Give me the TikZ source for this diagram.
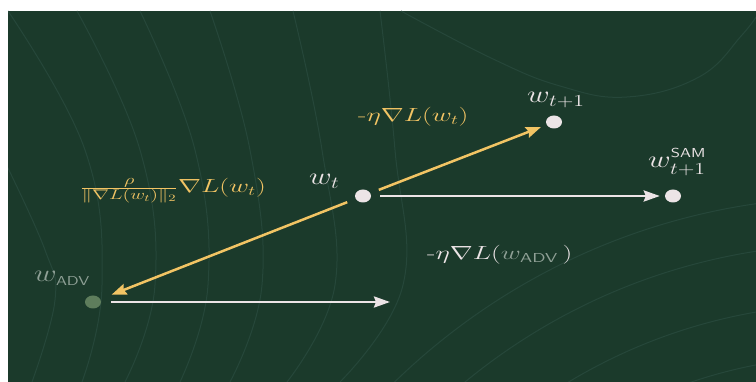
\RequirePackage{fix-cm}
\documentclass[tikz,border=0pt]{standalone}
\usepackage{amsmath}
\usetikzlibrary{arrows.meta,shapes.geometric}
\definecolor{bg}{HTML}{1B3A2B}
\definecolor{contourcol}{HTML}{26473A}
\definecolor{gold}{HTML}{F2C464}
\definecolor{chalk}{HTML}{ECE4E6}
\definecolor{advdot}{HTML}{5E7D5C}
\definecolor{advtext}{HTML}{8FA096}
\newcommand{\wx}[1]{\scalebox{1.3}[1]{#1}}
\newcommand{\yx}[1]{\scalebox{1.45}[1]{#1}}
\newcommand{\sflab}[1]{\mbox{\fontsize{13}{14}\selectfont\sffamily #1}}
\newcommand{\fracpart}[1]{\mbox{\fontsize{14}{16}\selectfont$#1$}}
\begin{document}
\begin{tikzpicture}[x=1pt,y=-1pt,
  contour/.style={draw=contourcol,line width=1pt},
  dotw/.style={ellipse,fill=chalk,inner sep=0pt,minimum width=16pt,minimum height=13pt},
  dotadv/.style={dotw,fill=advdot},
  lab/.style={inner sep=0pt,anchor=base west,text=chalk,font=\fontsize{24}{28}\selectfont},
  eq/.style={inner sep=0pt,anchor=base west,font=\fontsize{19}{22}\selectfont},
  goldarrow/.style={draw=gold,line width=2.5pt,-{Stealth[length=15pt,width=11pt,inset=2pt]}},
  chalkarrow/.style={draw=chalk,line width=2.5pt,-{Stealth[length=16pt,width=11pt,inset=2pt]}}]
\useasboundingbox (0,0) rectangle (756,382);
\fill[white] (0,0) rectangle (756,382);
\fill[bg] (8,11) rectangle (756,382);
\begin{scope}
  \clip (8,11) rectangle (756,382);
  \draw[contour] plot[smooth,tension=0.7] coordinates {(4,160) (45,250) (55,300) (32,382)};
  \draw[contour] plot[smooth,tension=0.7] coordinates {(8,11) (85,150) (102,285) (82,382)};
  \draw[contour] plot[smooth,tension=0.7] coordinates {(77,11) (140,150) (155,285) (125,382)};
  \draw[contour] plot[smooth,tension=0.7] coordinates {(140,11) (195,150) (208,285) (180,382)};
  \draw[contour] plot[smooth,tension=0.7] coordinates {(210,11) (250,150) (262,285) (230,382)};
  \draw[contour] plot[smooth,tension=0.7] coordinates {(293,11) (322,150) (335,285) (287,382)};
  \draw[contour] plot[smooth,tension=0.7] coordinates {(380,11) (395,150) (403,285) (340,382)};
  \draw[contour] plot[smooth,tension=0.7] coordinates {(401,11) (491,58) (560,86) (627,97) (699,77) (742,35) (762,8)};
  \foreach \r in {494,546,606,653} \draw[contour] (850,850) circle[radius=\r pt];
\end{scope}
% points
\node[dotw] (wt) at (363,196) {};
\node[dotw] (wt1) at (554,122) {};
\node[dotw] (wsam) at (673,196) {};
\node[dotadv] (wadv) at (93,302) {};
\coordinate (advend) at (390,302);
% arrows
\draw[goldarrow,shorten <=9pt,shorten >=6pt] (wt) -- (wt1);
\draw[goldarrow,shorten <=9pt,shorten >=12pt] (wt) -- (wadv);
\draw[chalkarrow,shorten <=9pt,shorten >=5pt] (wt) -- (wsam);
\draw[chalkarrow,shorten <=10pt] (wadv) -- (advend);
% labels
\node[lab] (lwt) at (309,185) {\wx{$w_t$}};
\node[lab] (lwt1) at (527,103) {\wx{$w_{t+1}$}};
\node[lab] (lsam) at (648,168) {\wx{$w_{t+1}^{\raisebox{2pt}{\sflab{SAM}}}$}};
\node[lab,text=advtext] (ladv) at (34,282) {\wx{$w_{\sflab{ADV}}$}};
\node[eq,text=gold] (lstep) at (358,122) {\yx{-$\eta\nabla L(w_t)$}};
\node[eq,text=gold] (lpert) at (80,193) {\yx{$\frac{\fracpart{\rho}}{\fracpart{\|\nabla L(w_t)\|_2}}\nabla L(w_t)$}};
\node[eq,text=chalk] (lsamstep) at (427,260) {\yx{-$\eta\nabla L($\textcolor{advtext}{$w_{\sflab{ADV}}$}$\,)$}};
\end{tikzpicture}
\end{document}
